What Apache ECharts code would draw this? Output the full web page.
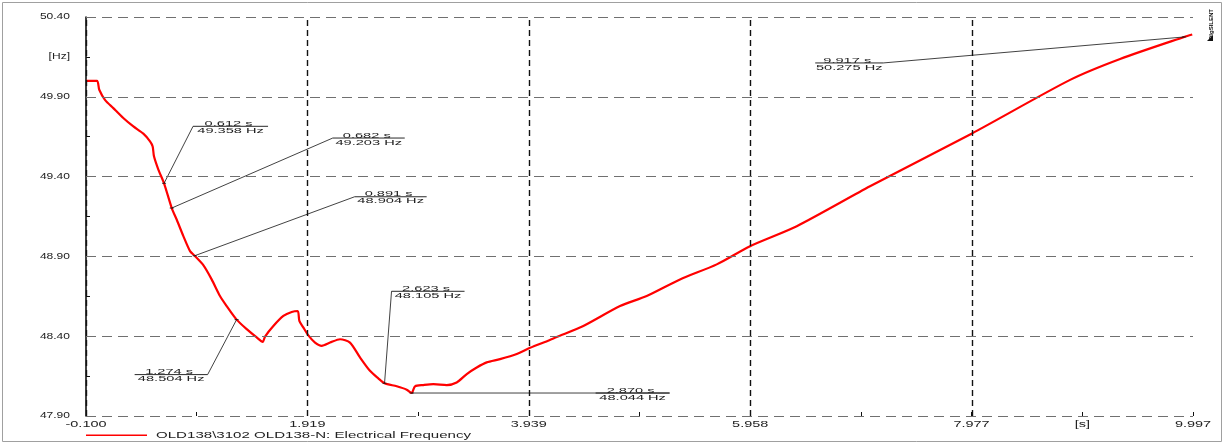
<!DOCTYPE html>
<html><head><meta charset="utf-8">
<script src="https://cdn.jsdelivr.net/npm/echarts@6/dist/echarts.min.js"></script>
<style>html,body{margin:0;padding:0;background:#fff}#c{width:1225px;height:445px}</style>
</head><body><div id="c"></div>
<script>
// ---------------- data ----------------
const seriesName = 'OLD138\\3102 OLD138-N: Electrical Frequency';

const timeS = [-0.100, 0.000, 0.021, 0.073, 0.149, 0.240, 0.332, 0.423, 0.484, 0.508, 0.520, 0.560,
  0.612, 0.682, 0.727, 0.788, 0.849, 0.891, 0.970, 1.046, 1.122, 1.183, 1.274, 1.366, 1.457, 1.512,
  1.533, 1.609, 1.700, 1.776, 1.831, 1.846, 1.882, 1.928, 1.989, 2.050, 2.126, 2.217, 2.308, 2.399,
  2.490, 2.566, 2.623, 2.734, 2.825, 2.870, 2.901, 2.977, 3.068, 3.190, 3.281, 3.373, 3.464, 3.555,
  3.676, 3.829, 3.950, 4.126, 4.193, 4.436, 4.771, 5.014, 5.318, 5.653, 5.957, 6.383, 7.051, 7.977,
  8.876, 9.332, 9.917, 9.990];
const freqHz = [50.000, 50.000, 49.944, 49.881, 49.829, 49.767, 49.714, 49.669, 49.621, 49.589, 49.527, 49.444,
  49.358, 49.203, 49.131, 49.027, 48.933, 48.904, 48.845, 48.756, 48.652, 48.589, 48.504, 48.444, 48.392, 48.364,
  48.398, 48.464, 48.527, 48.552, 48.558, 48.496, 48.455, 48.405, 48.360, 48.340, 48.360, 48.381, 48.360, 48.267,
  48.183, 48.136, 48.105, 48.086, 48.065, 48.044, 48.086, 48.094, 48.100, 48.094, 48.110, 48.163, 48.204, 48.236,
  48.256, 48.288, 48.327, 48.375, 48.395, 48.464, 48.589, 48.652, 48.756, 48.850, 48.964, 49.089, 49.339, 49.669,
  50.006, 50.137, 50.275, 50.290];

const xTickValues = [-0.100, 1.919, 3.939, 5.958, 7.977, 9.997];
const xTickLabels = ['-0.100', '1.919', '3.939', '5.958', '7.977', '9.997'];
const yTickValues = [47.90, 48.40, 48.90, 49.40, 49.90, 50.40];
const yTickLabels = ['47.90', '48.40', '48.90', '49.40', '49.90', '50.40'];
const xUnit = '[s]';
const yUnit = '[Hz]';

const annotTimes = [0.612, 0.682, 0.891, 1.274, 2.623, 2.870, 9.917];
const annotFreqs = [49.358, 49.203, 48.904, 48.504, 48.105, 48.044, 50.275];

// ---------------- layout / styling ----------------
// pixel offsets from the marked point to the label elbow, and underline length (sign = direction)
const annotLayout = [
  {dx: 29, dy: -57, len: 75},
  {dx: 161, dy: -70, len: 72},
  {dx: 160, dy: -59, len: 72},
  {dx: -29, dy: 55, len: -73},
  {dx: 7, dy: -92, len: 73},
  {dx: 258, dy: 0, len: -74},
  {dx: -301, dy: 26, len: -68}
];

// the original export has horizontally stretched glyphs: scale text drawing by font size key
const TEXT_SCALE = {'8.5': 1.7, '8.6': 1.4, '7.7': 1.9, '8.4': 1.8};
(function () {
  const proto = CanvasRenderingContext2D.prototype;
  function scaleFor(ctx) {
    const m = /(\d+(?:\.\d+)?)px/.exec(String(ctx.font));
    return (m && TEXT_SCALE[m[1]]) || 1;
  }
  const origMeasure = proto.measureText;
  proto.measureText = function (t) {
    const m = origMeasure.call(this, t);
    const s = scaleFor(this);
    if (s === 1) return m;
    return {
      width: m.width * s,
      actualBoundingBoxAscent: m.actualBoundingBoxAscent,
      actualBoundingBoxDescent: m.actualBoundingBoxDescent,
      actualBoundingBoxLeft: m.actualBoundingBoxLeft * s,
      actualBoundingBoxRight: m.actualBoundingBoxRight * s,
      fontBoundingBoxAscent: m.fontBoundingBoxAscent,
      fontBoundingBoxDescent: m.fontBoundingBoxDescent
    };
  };
  const origFill = proto.fillText;
  proto.fillText = function (t, x, y) {
    const s = scaleFor(this);
    if (s === 1) return origFill.apply(this, arguments);
    this.save();
    this.translate(x, y);
    this.scale(s, 1);
    origFill.call(this, t, 0, 0);
    this.restore();
  };
})();

const FONT = '"Liberation Sans", Arial, sans-serif';
const mid = (a) => a.slice(0, -1).map((v, i) => (v + a[i + 1]) / 2);
const xMinor = mid(xTickValues);
const yMinor = mid(yTickValues);
const xUnitPos = xMinor[xMinor.length - 1];
const yUnitPos = yMinor[yMinor.length - 1];

function xLabel(v) {
  if (Math.abs(v - xUnitPos) < 1e-6) return xUnit;
  const i = xTickValues.findIndex(t => Math.abs(t - v) < 1e-6);
  return i >= 0 ? xTickLabels[i] : '';
}
function yLabel(v) {
  if (Math.abs(v - yUnitPos) < 1e-6) return yUnit;
  const i = yTickValues.findIndex(t => Math.abs(t - v) < 1e-6);
  return i >= 0 ? yTickLabels[i] : '';
}

const chart = echarts.init(document.getElementById('c'), null, {renderer: 'canvas'});

const gridLines = [];
yTickValues.forEach(v => gridLines.push({yAxis: v, lineStyle: {color: '#707070', type: [10, 6], width: 1}}));
xTickValues.forEach(v => gridLines.push({xAxis: v, lineStyle: {color: '#111', type: [6, 4], width: 1.4}}));

const option = {
  animation: false,
  backgroundColor: '#fff',
  grid: {left: 86, right: 32, top: 17, bottom: 29, containLabel: false, outerBoundsMode: 'none'},
  xAxis: {
    type: 'value', min: xTickValues[0], max: xTickValues[xTickValues.length - 1],
    axisLine: {show: false, onZero: false},
    splitLine: {show: false},
    axisTick: {show: true, inside: true, length: 4, customValues: xTickValues.concat(xMinor),
      lineStyle: {color: '#111', width: 1}},
    axisLabel: {customValues: xTickValues.concat([xUnitPos]), formatter: xLabel, margin: 1.5,
      fontSize: 8.5, fontFamily: FONT, color: '#222', showMinLabel: true, showMaxLabel: true}
  },
  yAxis: {
    type: 'value', min: yTickValues[0], max: yTickValues[yTickValues.length - 1],
    axisLine: {show: true, onZero: false, lineStyle: {color: '#000', width: 1.5}},
    splitLine: {show: false},
    axisTick: {show: true, inside: true, length: 4, customValues: yTickValues.concat(yMinor),
      lineStyle: {color: '#111', width: 1}},
    axisLabel: {customValues: yTickValues.concat([yUnitPos]), formatter: yLabel, margin: 16,
      fontSize: 8.6, fontFamily: FONT, color: '#222', showMinLabel: true, showMaxLabel: true}
  },
  legend: {
    data: [seriesName], left: 86, top: 428, padding: 0,
    icon: 'rect', itemWidth: 61, itemHeight: 1.6,
    textStyle: {fontSize: 8.4, fontFamily: FONT, color: '#222', padding: [0, 0, 0, 4]},
    selectedMode: false
  },
  graphic: [
    {type: 'rect', silent: true, z: 100, shape: {x: 2.5, y: 2.5, width: 1219, height: 439},
      style: {fill: 'none', stroke: '#a0a0a0', lineWidth: 1}},
    {type: 'text', silent: true, z: 100, x: 1211, y: 40, rotation: Math.PI / 2,
      style: {text: 'DIgSILENT', font: 'bold 6px ' + FONT, fill: '#111', align: 'left', verticalAlign: 'middle'}},
    {type: 'polygon', silent: true, z: 100, shape: {points: [[1207, 41], [1213, 41], [1213, 35]]},
      style: {fill: '#111'}}
  ],
  series: [
    {
      name: 'grid', type: 'line', data: [], z: 1, silent: true,
      markLine: {silent: true, symbol: ['none', 'none'], label: {show: false}, animation: false,
        emphasis: {disabled: true}, data: gridLines}
    },
    {
      name: seriesName, type: 'line', z: 3, showSymbol: false, smooth: 0.25,
      data: timeS.map((t, i) => [t, freqHz[i]]),
      lineStyle: {color: '#ff0000', width: 2.2}, itemStyle: {color: '#ff0000'}
    },
    {
      name: 'annotations', type: 'custom', z: 4, silent: true,
      data: annotTimes.map((t, i) => [t, annotFreqs[i], i]),
      renderItem: function (params, api) {
        const i = api.value(2);
        const p = api.coord([api.value(0), api.value(1)]);
        const L = annotLayout[i];
        const ex = p[0] + L.dx, ey = p[1] + L.dy;
        const ux = ex + L.len;
        const cx = (ex + ux) / 2;
        return {
          type: 'group', children: [
            {type: 'line', shape: {x1: p[0], y1: p[1], x2: ex, y2: ey}, style: {stroke: '#111', lineWidth: 0.8}},
            {type: 'line', shape: {x1: ex, y1: ey, x2: ux, y2: ey}, style: {stroke: '#111', lineWidth: 0.9}},
            {type: 'line', shape: {x1: p[0] - 2, y1: p[1], x2: p[0] + 2, y2: p[1]}, style: {stroke: '#111', lineWidth: 0.8}},
            {type: 'text', style: {text: annotTimes[i].toFixed(3) + ' s', x: cx - 2, y: ey - 2.5,
              align: 'center', verticalAlign: 'middle', font: '7.7px ' + FONT, fill: '#222'}},
            {type: 'text', style: {text: annotFreqs[i].toFixed(3) + ' Hz', x: cx, y: ey + 4.5,
              align: 'center', verticalAlign: 'middle', font: '7.7px ' + FONT, fill: '#222'}}
          ]
        };
      }
    }
  ]
};
chart.setOption(option);
</script>
</body></html>
